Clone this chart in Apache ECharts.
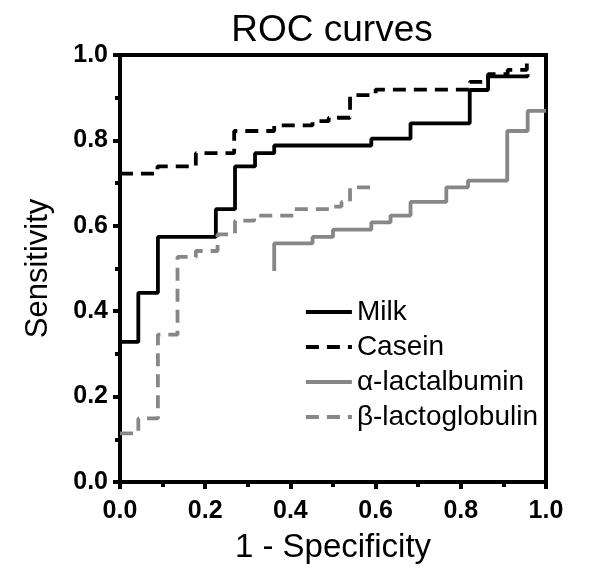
<!DOCTYPE html>
<html>
<head>
<meta charset="utf-8">
<script src="https://cdn.jsdelivr.net/npm/echarts@6/dist/echarts.min.js"></script>
<style>html,body{margin:0;padding:0;background:#fff}#c{width:600px;height:583px}</style>
</head>
<body>
<div id="c"></div>
<script>
// Step-curve corner points [1 - specificity, sensitivity]; drawn with step:'end'
var milk = [[0,0.328],[0.043,0.443],[0.089,0.574],[0.225,0.639],[0.27,0.739],[0.317,0.770],[0.362,0.788],[0.590,0.804],[0.682,0.840],[0.821,0.918],[0.864,0.950],[0.957,0.955]];
var casein = [[0,0.722],[0.088,0.739],[0.178,0.770],[0.268,0.822],[0.362,0.835],[0.452,0.845],[0.49,0.853],[0.540,0.906],[0.60,0.919],[0.821,0.937],[0.864,0.955],[0.91,0.965],[0.955,0.985]];
var alphaLact = [[0.362,0.494],[0.362,0.559],[0.452,0.574],[0.5,0.591],[0.59,0.608],[0.635,0.624],[0.682,0.656],[0.766,0.675],[0.766,0.69],[0.817,0.706],[0.909,0.822],[0.957,0.869],[1.0,0.869]];
var betaLact = [[0,0.114],[0.043,0.149],[0.089,0.345],[0.135,0.527],[0.178,0.541],[0.229,0.580],[0.27,0.612],[0.315,0.624],[0.409,0.639],[0.5,0.645],[0.52,0.656],[0.540,0.690],[0.59,0.690]];
var seriesNames = ['Milk','Casein','\u03b1-lactalbumin','\u03b2-lactoglobulin'];
var xTicks = [0,0.2,0.4,0.6,0.8,1.0];
var yTicks = [0,0.2,0.4,0.6,0.8,1.0];

var FONT = "'Liberation Sans', Arial, sans-serif";
var chart = echarts.init(document.getElementById('c'), null, {renderer:'canvas'});
function axisCommon(name, extra){
  var a = {
    type:'value', min:0, max:1, interval:0.2,
    name:name, nameLocation:'middle',
    nameTextStyle:{fontFamily:FONT, fontSize:32, color:'#000'},
    axisLine:{show:true, onZero:false, lineStyle:{color:'#000', width:4, cap:'square'}},
    axisTick:{show:true, inside:false, length:7, lineStyle:{color:'#000', width:4}},
    minorTick:{show:true, splitNumber:2, length:5, lineStyle:{color:'#000', width:4}},
    splitLine:{show:false}, minorSplitLine:{show:false},
    axisLabel:{fontFamily:FONT, fontSize:25, fontWeight:'bold', color:'#000', margin:12,
      formatter:function(v){return v.toFixed(1);}}
  };
  for (var k in extra) a[k]=extra[k];
  return a;
}
function mk(name, data, color, type){
  return {name:name, type:'line', data:data, step:'end', symbol:'none', showSymbol:false,
    lineStyle:{color:color, width:3.8, type:type}, itemStyle:{color:color},
    emphasis:{disabled:true}, animation:false, z:3};
}
var xa = axisCommon('1 - Specificity', {nameGap:49, nameTextStyle:{fontFamily:FONT, fontSize:33, color:'#000'}});
xa.axisLabel.margin = 17;
var ya = axisCommon('Sensitivity', {nameGap:66, nameTextStyle:{fontFamily:FONT, fontSize:31, color:'#000'}});
chart.setOption({
  animation:false,
  title:{text:'ROC curves', left:327, top:7, textAlign:'center',
    textStyle:{fontFamily:FONT, fontSize:37, fontWeight:'normal', color:'#000'}},
  grid:{left:120, top:55, width:426, height:427, show:true, borderColor:'#000', borderWidth:4, containLabel:false},
  xAxis: xa,
  yAxis: ya,
  legend:{orient:'vertical', left:299, top:293, itemWidth:46, itemHeight:14, itemGap:7,
    data:seriesNames, selectedMode:false,
    itemStyle:{opacity:0}, lineStyle:{opacity:1, width:3.8},
    textStyle:{fontFamily:FONT, fontSize:28, color:'#000', lineHeight:24}},
  series:[
    mk(seriesNames[0], milk, '#000', 'solid'),
    mk(seriesNames[1], casein, '#000', [13,8]),
    mk(seriesNames[2], alphaLact, '#878787', 'solid'),
    mk(seriesNames[3], betaLact, '#878787', [13,8])
  ]
});
</script>
</body>
</html>
